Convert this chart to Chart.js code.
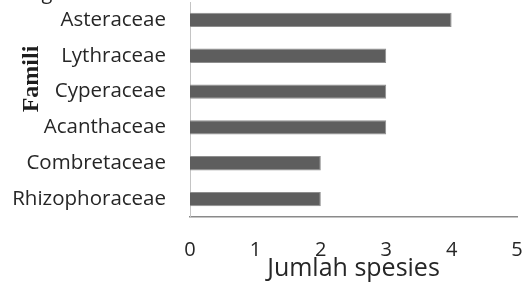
<!DOCTYPE html>
<html>
<head>
<meta charset="utf-8">
<script src="https://cdn.jsdelivr.net/npm/chart.js@4"></script>
<style>
    html, body { margin: 0; padding: 0; background: #fff; }
    #wrap { width: 528px; height: 284px; position: relative; }
</style>
</head>
<body>
<div id="wrap"><canvas id="famChart"></canvas></div>
<script>
// data
const families = ['Asteraceae', 'Lythraceae', 'Cyperaceae', 'Acanthaceae', 'Combretaceae', 'Rhizophoraceae'];
const speciesCount = [4, 3, 3, 3, 2, 2];
const xTicks = [0, 1, 2, 3, 4, 5];

const labelFont = "'Open Sans', sans-serif";

// extra texts: rotated "Famili" and the cut-off glyph at the top edge
const sideTexts = {
    id: 'sideTexts',
    afterDraw(chart) {
        const ctx = chart.ctx;
        ctx.save();
        ctx.fillStyle = '#1e1e1e';
        ctx.font = "bold 24px 'Liberation Serif'";
        ctx.textAlign = 'center';
        ctx.textBaseline = 'middle';
        ctx.translate(32, 79);
        ctx.rotate(-Math.PI / 2);
        ctx.fillText('Famili', 0, 0);
        ctx.restore();

        ctx.save();
        ctx.fillStyle = '#1e1e1e';
        ctx.font = '20px ' + labelFont;
        ctx.textAlign = 'center';
        ctx.textBaseline = 'alphabetic';
        ctx.fillText('g', 47, -1);
        ctx.restore();
    }
};

const ctx = document.getElementById('famChart').getContext('2d');
const famChart = new Chart(ctx, {
    type: 'bar',
    data: {
        labels: families,
        datasets: [{
            data: speciesCount,
            backgroundColor: '#5e5e5e',
            borderColor: '#8e8e8e',
            borderWidth: 1,
            categoryPercentage: 1,
            barPercentage: 0.4
        }]
    },
    options: {
        indexAxis: 'y',
        responsive: true,
        maintainAspectRatio: false,
        animation: false,
        layout: { padding: { top: 2, right: 11, left: 0, bottom: 0 } },
        plugins: {
            legend: { display: false },
            tooltip: { enabled: false }
        },
        scales: {
            x: {
                min: 0,
                max: 5,
                afterBuildTicks(scale) {
                    scale.ticks = xTicks.map(v => ({ value: v }));
                },
                afterFit(scale) {
                    scale.height = 67;
                    scale.paddingLeft = 0;
                    scale.paddingRight = 0;
                },
                grid: { display: false, drawTicks: false },
                border: { display: true, color: '#8a8a8a', width: 1.5 },
                ticks: {
                    padding: 21,
                    color: '#262626',
                    font: { family: labelFont, size: 20 }
                },
                title: {
                    display: true,
                    text: 'Jumlah spesies',
                    color: '#262626',
                    font: { family: labelFont, size: 25 },
                    padding: { top: 0, bottom: 0 }
                }
            },
            y: {
                afterFit(scale) {
                    scale.width = 190;
                    scale.paddingTop = 0;
                    scale.paddingBottom = 0;
                },
                grid: { display: false, drawTicks: false },
                border: { display: true, color: '#c4c4c4', width: 1 },
                ticks: {
                    padding: 24,
                    color: '#262626',
                    font: { family: labelFont, size: 20.5 }
                }
            }
        }
    },
    plugins: [sideTexts]
});
</script>
</body>
</html>
